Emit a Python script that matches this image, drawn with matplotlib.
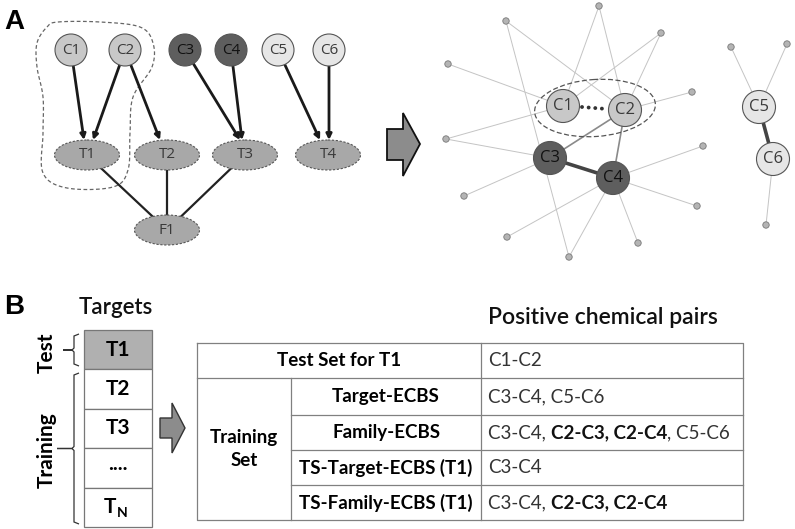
import numpy as np
import matplotlib.pyplot as plt
from matplotlib.patches import Circle, Ellipse, Polygon, Rectangle, PathPatch
from matplotlib.path import Path

# ---- panel A: bipartite graph (pixel coordinates) ----
chem_names = ['C1', 'C2', 'C3', 'C4', 'C5', 'C6']
chem_x = [71, 125, 185, 231, 278, 329]
chem_y = 50
chem_colors = ['#c8c8c8', '#c8c8c8', '#5e5e5e', '#5e5e5e', '#e6e6e6', '#e6e6e6']

target_names = ['T1', 'T2', 'T3', 'T4', 'F1']
target_x = [87, 167, 245, 328, 167]
target_y = [155, 155, 155, 155, 230]

# (chemical, target, x offset of arrow head at the target)
links = [('C1', 'T1', -3), ('C2', 'T1', 6), ('C2', 'T2', -7),
         ('C3', 'T3', -5), ('C4', 'T3', -3), ('C5', 'T4', -8), ('C6', 'T4', 1)]
family_links = [('T1', 'F1'), ('T2', 'F1'), ('T3', 'F1')]

blob = [(58, 22), (100, 22), (140, 27), (153, 43), (152, 67), (133, 97), (130, 133),
        (128, 170), (113, 187), (67, 188), (43, 173), (43, 133), (43, 97),
        (37, 67), (37, 43), (47, 27)]

# ---- panel A: chemical similarity network ----
net_big = {'C1': (563, 106), 'C2': (625, 110), 'C3': (550, 158), 'C4': (613, 178),
           'C5': (759, 107), 'C6': (773, 159)}
net_small = {'d1': (506, 21), 'd2': (599, 6), 'd3': (661, 33), 'd4': (448, 64),
             'd5': (692, 92), 'd6': (446, 139), 'd7': (703, 146), 'd8': (464, 196),
             'd9': (697, 206), 'd10': (507, 237), 'd11': (638, 243), 'd12': (569, 257),
             'd13': (731, 47), 'd14': (787, 44), 'd15': (766, 225)}
thin_edges = [('d1', 'C2'), ('d1', 'd12'), ('d2', 'C1'), ('d2', 'C2'), ('d3', 'C1'),
              ('d3', 'C2'), ('d4', 'C1'), ('d5', 'C2'), ('d6', 'C1'), ('d6', 'C3'),
              ('d7', 'C4'), ('d8', 'C3'), ('d9', 'C4'), ('d10', 'C4'), ('d11', 'C4'),
              ('d12', 'C4'), ('d13', 'C5'), ('d14', 'C5'), ('d15', 'C6')]
mid_edges = [('C2', 'C3'), ('C2', 'C4')]
strong_edges = [('C3', 'C4'), ('C5', 'C6')]

# ---- panel B ----
target_rows = ['T1', 'T2', 'T3', '....', 'T']
row_labels = ['Target-ECBS', 'Family-ECBS', 'TS-Target-ECBS (T1)', 'TS-Family-ECBS (T1)']
row_pairs = [
    [('C3-C4, C5-C6', 'normal')],
    [('C3-C4, ', 'normal'), ('C2-C3, C2-C4', 'bold'), (', C5-C6', 'normal')],
    [('C3-C4', 'normal')],
    [('C3-C4, ', 'normal'), ('C2-C3, C2-C4', 'bold')],
]
test_pairs = 'C1-C2'

fig = plt.figure(figsize=(7.95, 5.29), dpi=100)
ax = fig.add_axes([0, 0, 1, 1])
ax.set_xlim(0, 795)
ax.set_ylim(529, 0)
ax.axis('off')

FONT = 'Lato'
TS = 13.5
LAB = dict(family='Open Sans', color='#3a3a3a', fontsize=11, ha='center', va='center')

ax.text(14, 22, 'A', family='Liberation Sans', weight='bold', fontsize=20, ha='center', va='center')
ax.text(14, 307, 'B', family='Liberation Sans', weight='bold', fontsize=20, ha='center', va='center')

# blob around C1, C2, T1 (smoothed closed curve)
pts = np.array(blob, dtype=float)
n = len(pts)
smooth = []
for i in range(n):
    p0, p1, p2, p3 = pts[i - 1], pts[i], pts[(i + 1) % n], pts[(i + 2) % n]
    for t in np.linspace(0, 1, 12, endpoint=False):
        smooth.append(0.5 * ((2 * p1) + (-p0 + p2) * t + (2 * p0 - 5 * p1 + 4 * p2 - p3) * t ** 2
                             + (-p0 + 3 * p1 - 3 * p2 + p3) * t ** 3))
ax.add_patch(Polygon(smooth, closed=True, fill=False, ec='#666666', lw=0.9, ls=(0, (3, 2)), zorder=1))

r = 16
cpos = {nm: (x, chem_y) for nm, x in zip(chem_names, chem_x)}
tpos = {nm: (x, y) for nm, x, y in zip(target_names, target_x, target_y)}

for a, b in family_links:
    ax.plot([tpos[a][0], tpos[b][0]], [tpos[a][1], tpos[b][1]], color='#222222', lw=1.6, zorder=2)

for c, t, dx in links:
    x0, y0 = cpos[c]
    x1, y1 = tpos[t][0] + dx, tpos[t][1] - 15
    d = np.hypot(x1 - x0, y1 - y0)
    sx, sy = x0 + (x1 - x0) / d * r, y0 + (y1 - y0) / d * r
    ax.annotate('', xy=(x1, y1), xytext=(sx, sy),
                arrowprops=dict(arrowstyle='-|>', color='#1a1a1a', lw=2.0, mutation_scale=8,
                                shrinkA=0, shrinkB=0), zorder=3)

for nm, col in zip(chem_names, chem_colors):
    ax.add_patch(Circle(cpos[nm], r, fc=col, ec='#555555', lw=0.8, zorder=4))
    ax.text(*cpos[nm], nm, zorder=5, **dict(LAB, color='#111111' if col == '#5e5e5e' else '#3a3a3a'))

for nm in target_names:
    ax.add_patch(Ellipse(tpos[nm], 65, 30, fc='#a8a8a8', ec='#555555', lw=0.8, ls=(0, (2, 1.5)), zorder=4))
    ax.text(*tpos[nm], nm, zorder=5, **LAB)

# big arrow
ax.add_patch(Polygon([(387, 129), (403, 129), (403, 113), (420, 144), (403, 176), (403, 160), (387, 160)],
                     closed=True, fc='#8c8c8c', ec='#111111', lw=1.3, zorder=3))

# network
allpos = dict(net_big)
allpos.update(net_small)
for a, b in thin_edges:
    ax.plot([allpos[a][0], allpos[b][0]], [allpos[a][1], allpos[b][1]], color='#c4c4c4', lw=0.7, zorder=1)
for a, b in mid_edges:
    ax.plot([allpos[a][0], allpos[b][0]], [allpos[a][1], allpos[b][1]], color='#8a8a8a', lw=1.2, zorder=1)
for a, b in strong_edges:
    ax.plot([allpos[a][0], allpos[b][0]], [allpos[a][1], allpos[b][1]], color='#444444', lw=2.6, zorder=1)
ax.plot([net_big['C1'][0] + 19, net_big['C2'][0] - 18], [net_big['C1'][1] + 1, net_big['C2'][1] - 1],
        color='#333333', lw=2.8, ls=(0, (0.01, 1.7)), dash_capstyle='round', zorder=1)
for nm, (x, y) in net_small.items():
    ax.add_patch(Circle((x, y), 3.2, fc='#b4b4b4', ec='#777777', lw=0.6, zorder=2))
for nm, (x, y) in net_big.items():
    col = chem_colors[chem_names.index(nm)]
    ax.add_patch(Circle((x, y), 16.5, fc=col, ec='#555555', lw=0.8, zorder=3))
    ax.text(x, y, nm, zorder=4, **dict(LAB, fontsize=12, color='#111111' if col == '#5e5e5e' else '#3a3a3a'))
ax.add_patch(Ellipse((595, 108), 121, 57, angle=-4, fill=False, ec='#555555', lw=0.9, ls=(0, (4, 2)), zorder=5))

# ---- panel B: targets column ----
ax.text(116, 308, 'Targets', family=FONT, weight='semibold', fontsize=16, ha='center', va='center',
        color='#111111')
top, rh = 330, 39.4
for i, lab in enumerate(target_rows):
    y = top + i * rh
    ax.add_patch(Rectangle((84, y), 68, rh, fc='#b0b0b0' if i == 0 else 'white', ec='#777777', lw=0.9))
    if lab == 'T':
        ax.text(116, y + rh / 2, 'T', family=FONT, weight='bold', fontsize=15, ha='right', va='center')
        ax.text(116.5, y + rh / 2 + 6, 'N', family=FONT, weight='bold', fontsize=10, ha='left', va='center')
    else:
        ax.text(118, y + rh / 2 - (4 if lab == '....' else 0), lab, family=FONT, weight='bold',
                fontsize=15, ha='center', va='center')

ax.text(47, 353, 'Test', family=FONT, weight='bold', fontsize=15, rotation=90, ha='center', va='center')
ax.text(47, 450, 'Training', family=FONT, weight='bold', fontsize=15, rotation=90, ha='center', va='center')


def bracket(y0, y1, xtick):
    ym = (y0 + y1) / 2
    verts = [(79, y0), (74, y0 + 2), (74, ym - 2), (72, ym), (xtick, ym), (72, ym), (74, ym + 2),
             (74, y1 - 2), (79, y1)]
    ax.add_patch(PathPatch(Path(verts), fill=False, ec='#333333', lw=0.9))


bracket(334, 366, 63)
bracket(373, 524, 57)

# small arrow
ax.add_patch(Polygon([(160, 418), (172, 418), (172, 403), (185, 428), (172, 453), (172, 438), (160, 438)],
                     closed=True, fc='#8c8c8c', ec='#333333', lw=1.0))

# ---- panel B: table ----
rows_y = [343, 378, 415, 450, 485, 520]
xl, xm, xc, xr = 197, 291, 481, 743
lc = dict(color='#808080', lw=0.9)
ax.plot([xl, xr, xr, xl, xl], [rows_y[0], rows_y[0], rows_y[-1], rows_y[-1], rows_y[0]], **lc)
ax.plot([xc, xc], [rows_y[0], rows_y[-1]], **lc)
ax.plot([xl, xr], [rows_y[1], rows_y[1]], **lc)
ax.plot([xm, xm], [rows_y[1], rows_y[-1]], **lc)
for y in rows_y[2:-1]:
    ax.plot([xm, xr], [y, y], **lc)

ax.text(488, 318, 'Positive chemical pairs', family=FONT, weight='semibold', fontsize=16.5, ha='left',
        va='center', color='#111111')
ax.text((xl + xc) / 2, (rows_y[0] + rows_y[1]) / 2, 'Test Set for T1', family=FONT, weight='bold',
        fontsize=TS, ha='center', va='center')
ax.text(488, (rows_y[0] + rows_y[1]) / 2, test_pairs, family=FONT, fontsize=TS, ha='left', va='center',
        color='#333333')
ax.text((xl + xm) / 2, (rows_y[1] + rows_y[-1]) / 2, 'Training\nSet', family=FONT, weight='bold',
        fontsize=TS, ha='center', va='center', linespacing=1.4)
for i, lab in enumerate(row_labels):
    yc = (rows_y[i + 1] + rows_y[i + 2]) / 2
    ax.text((xm + xc) / 2, yc, lab, family=FONT, weight='bold', fontsize=TS, ha='center', va='center')
    prev = None
    for txt, w in row_pairs[i]:
        col = '#111111' if w == 'bold' else '#333333'
        if prev is None:
            prev = ax.text(488, yc, txt, family=FONT, weight=w, fontsize=TS, ha='left', va='center', color=col)
        else:
            prev = ax.annotate(txt, xy=(1, 0), xycoords=prev, xytext=(0, 0), textcoords='offset points',
                               family=FONT, weight=w, fontsize=TS, ha='left', va='bottom', color=col)

fig.savefig('out.png', dpi=100)
